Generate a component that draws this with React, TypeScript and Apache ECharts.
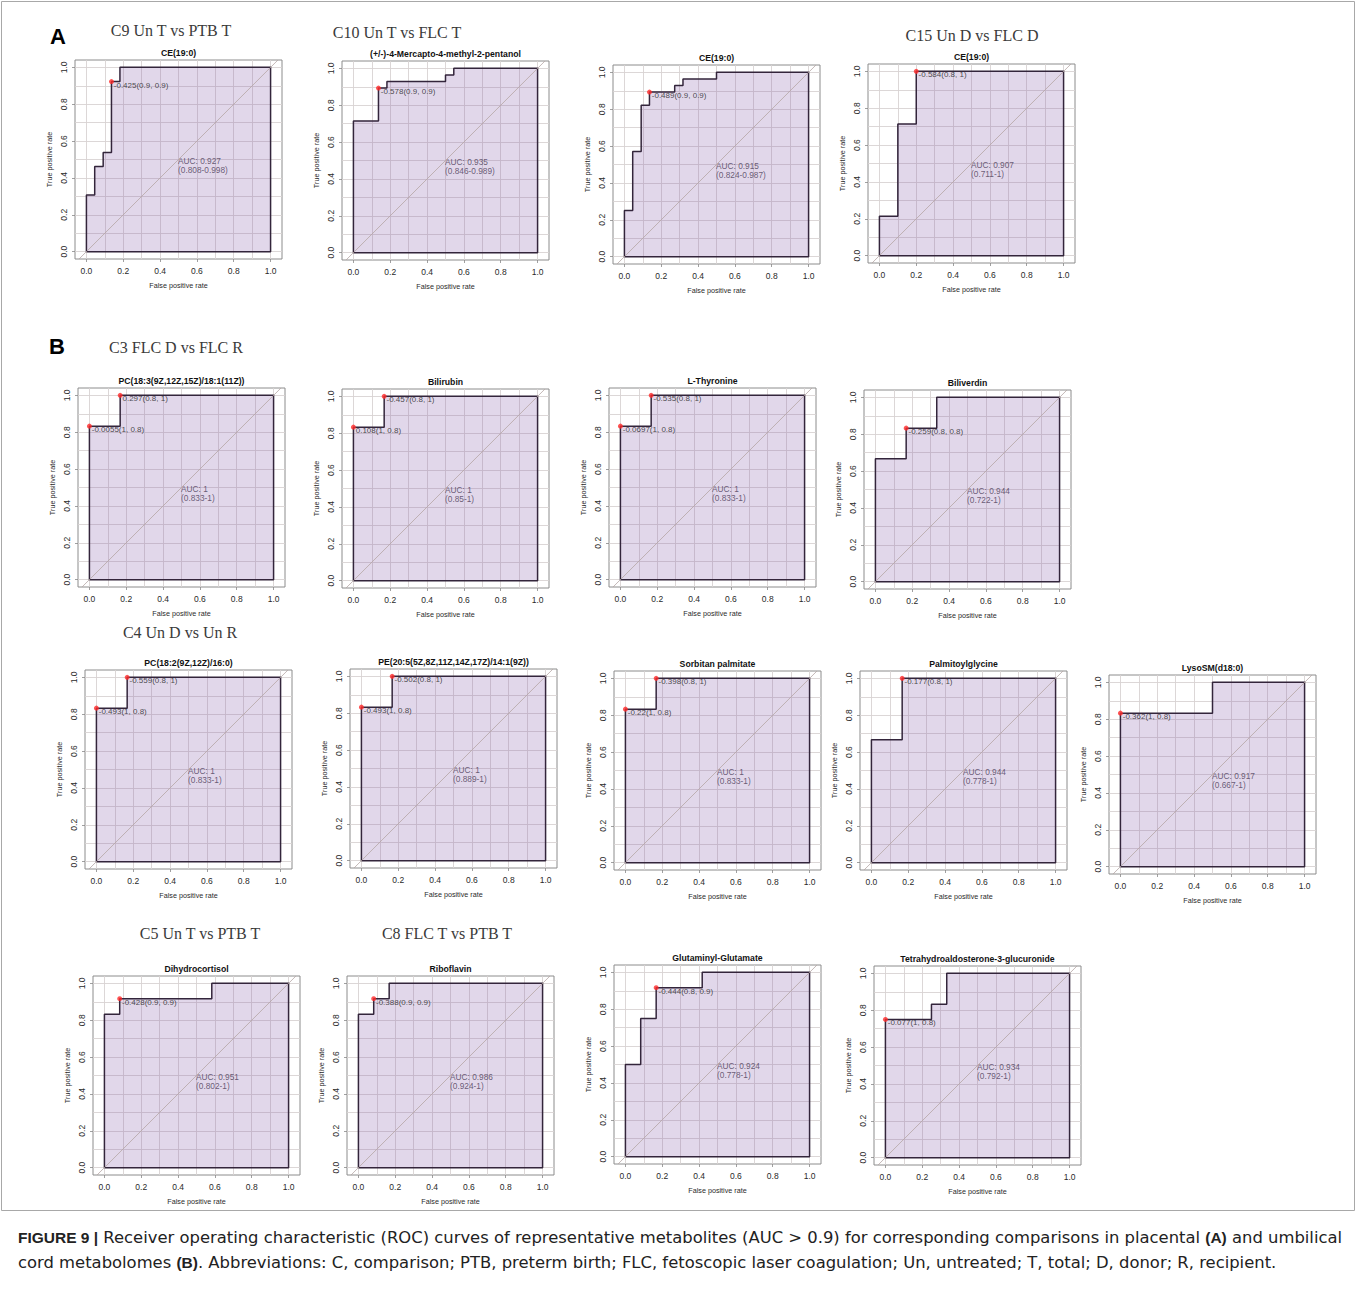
import React, { useEffect, useRef } from "react";
import * as echarts from "echarts";

const FONT = "'Liberation Sans', Arial, Helvetica, sans-serif";
const SERIF = "'Liberation Serif', 'Times New Roman', serif";
const CAPFONT = "'DejaVu Sans', 'Liberation Sans', Arial, sans-serif";

// ---------- data ----------
const panelTitles = [
  "CE(19:0)",
  "(+/-)-4-Mercapto-4-methyl-2-pentanol",
  "CE(19:0)",
  "CE(19:0)",
  "PC(18:3(9Z,12Z,15Z)/18:1(11Z))",
  "Bilirubin",
  "L-Thyronine",
  "Biliverdin",
  "PC(18:2(9Z,12Z)/16:0)",
  "PE(20:5(5Z,8Z,11Z,14Z,17Z)/14:1(9Z))",
  "Sorbitan palmitate",
  "Palmitoylglycine",
  "LysoSM(d18:0)",
  "Dihydrocortisol",
  "Riboflavin",
  "Glutaminyl-Glutamate",
  "Tetrahydroaldosterone-3-glucuronide",
];

// FPR at which TPR jumps, and the TPR level reached there
const fprSteps = [
  [0, 0.045, 0.091, 0.136, 0.182],
  [0, 0.136, 0.182, 0.5, 0.545],
  [0, 0.045, 0.091, 0.136, 0.273, 0.318, 0.5],
  [0, 0.1, 0.2],
  [0, 0.167],
  [0, 0.167],
  [0, 0.167],
  [0, 0.167, 0.333],
  [0, 0.167],
  [0, 0.167],
  [0, 0.167],
  [0, 0.167],
  [0, 0.5],
  [0, 0.083, 0.583],
  [0, 0.083, 0.167],
  [0, 0.083, 0.167, 0.417],
  [0, 0.25, 0.333],
];
const tprSteps = [
  [0.308, 0.462, 0.538, 0.923, 1],
  [0.714, 0.893, 0.929, 0.964, 1],
  [0.25, 0.571, 0.821, 0.893, 0.929, 0.964, 1],
  [0.214, 0.714, 1],
  [0.833, 1],
  [0.833, 1],
  [0.833, 1],
  [0.667, 0.833, 1],
  [0.833, 1],
  [0.833, 1],
  [0.833, 1],
  [0.667, 1],
  [0.833, 1],
  [0.833, 0.917, 1],
  [0.833, 0.917, 1],
  [0.5, 0.75, 0.917, 1],
  [0.75, 0.833, 1],
];

// best cut-off points: [fpr, tpr, label]
const cutoffs: [number, number, string][][] = [
  [[0.136, 0.923, "-0.425(0.9, 0.9)"]],
  [[0.136, 0.893, "-0.578(0.9, 0.9)"]],
  [[0.136, 0.893, "-0.489(0.9, 0.9)"]],
  [[0.2, 1, "-0.584(0.8, 1)"]],
  [[0.167, 1, "0.297(0.8, 1)"], [0, 0.833, "-0.0055(1, 0.8)"]],
  [[0.167, 1, "-0.457(0.8, 1)"], [0, 0.833, "0.108(1, 0.8)"]],
  [[0.167, 1, "-0.535(0.8, 1)"], [0, 0.833, "-0.0697(1, 0.8)"]],
  [[0.167, 0.833, "-0.259(0.8, 0.8)"]],
  [[0.167, 1, "-0.559(0.8, 1)"], [0, 0.833, "-0.493(1, 0.8)"]],
  [[0.167, 1, "-0.502(0.8, 1)"], [0, 0.833, "-0.493(1, 0.8)"]],
  [[0.167, 1, "-0.398(0.8, 1)"], [0, 0.833, "-0.22(1, 0.8)"]],
  [[0.167, 1, "-0.177(0.8, 1)"]],
  [[0, 0.833, "-0.362(1, 0.8)"]],
  [[0.083, 0.917, "-0.428(0.9, 0.9)"]],
  [[0.083, 0.917, "-0.388(0.9, 0.9)"]],
  [[0.167, 0.917, "-0.444(0.8, 0.9)"]],
  [[0, 0.75, "-0.077(1, 0.8)"]],
];

const aucValues = ["0.927", "0.935", "0.915", "0.907", "1", "1", "1", "0.944", "1", "1", "1", "0.944", "0.917", "0.951", "0.986", "0.924", "0.934"];
const aucCIs = ["0.808-0.998", "0.846-0.989", "0.824-0.987", "0.711-1", "0.833-1", "0.85-1", "0.833-1", "0.722-1", "0.833-1", "0.889-1", "0.833-1", "0.778-1", "0.667-1", "0.802-1", "0.924-1", "0.778-1", "0.792-1"];

const tickValues = [0, 0.2, 0.4, 0.6, 0.8, 1.0];
const gridValues = [0, 0.1, 0.2, 0.3, 0.4, 0.5, 0.6, 0.7, 0.8, 0.9, 1.0];

const sectionTitles = ["C9 Un T vs PTB T", "C10 Un T vs FLC T", "C15 Un D vs FLC D", "C3 FLC D vs FLC R", "C4 Un D vs Un R", "C5 Un T vs PTB T", "C8 FLC T vs PTB T"];

const captionLine1 = "{b|FIGURE 9 |} Receiver operating characteristic (ROC) curves of representative metabolites (AUC > 0.9) for corresponding comparisons in placental {b|(A)} and umbilical";
const captionLine2 = "cord metabolomes {b|(B)}. Abbreviations: C, comparison; PTB, preterm birth; FLC, fetoscopic laser coagulation; Un, untreated; T, total; D, donor; R, recipient.";

// ---------- layout ----------
const EX = 0.062;
const EY = 0.04;
const BOX_W = 207;
const BOX_H = 199;
const boxLeft = [75, 342, 613, 868, 78, 342, 609, 864, 85, 350, 614, 860, 1109, 93, 347, 614, 874];
const boxTop = [60, 61, 65, 64, 388, 389, 388, 390, 670, 669, 671, 671, 675, 976, 976, 965, 966];
const sectionPos = [
  [171, 30],
  [397, 32],
  [972, 35],
  [176, 347],
  [180, 632],
  [200, 933],
  [447, 933],
];

function stepPath(fpr: number[], tpr: number[]) {
  const pts: number[][] = [[0, 0]];
  let prev = 0;
  for (let k = 0; k < fpr.length; k++) {
    pts.push([fpr[k], prev]);
    pts.push([fpr[k], tpr[k]]);
    prev = tpr[k];
  }
  pts.push([1, prev]);
  pts.push([1, 0]);
  pts.push([0, 0]);
  return pts;
}

function buildOption() {
  const grid: any[] = [];
  const xAxis: any[] = [];
  const yAxis: any[] = [];
  const series: any[] = [];
  const graphic: any[] = [];

  panelTitles.forEach((title, i) => {
    grid.push({
      left: boxLeft[i],
      top: boxTop[i],
      width: BOX_W,
      height: BOX_H,
      show: true,
      borderColor: "#8c8c8c",
      borderWidth: 1,
      backgroundColor: "transparent",
      containLabel: false,
      outerBoundsMode: "none",
    });
    xAxis.push({
      gridIndex: i,
      type: "value",
      min: -EX,
      max: 1 + EX,
      axisLine: { show: false, onZero: false },
      axisTick: { show: true, customValues: tickValues, length: 3, lineStyle: { color: "#888", width: 0.8 } },
      axisLabel: {
        customValues: tickValues,
        formatter: (v: number) => v.toFixed(1),
        fontSize: 8.5,
        fontFamily: FONT,
        color: "#2a2a2a",
        margin: 7,
      },
      splitLine: { show: false },
      name: "False positive rate",
      nameLocation: "middle",
      nameGap: 23,
      nameTextStyle: { fontSize: 7.2, fontFamily: FONT, color: "#2a2a2a" },
    });
    yAxis.push({
      gridIndex: i,
      type: "value",
      min: -EY,
      max: 1 + EY,
      axisLine: { show: false, onZero: false },
      axisTick: { show: true, customValues: tickValues, length: 3, lineStyle: { color: "#888", width: 0.8 } },
      axisLabel: {
        customValues: tickValues,
        formatter: (v: number) => v.toFixed(1),
        rotate: 90,
        fontSize: 8.5,
        fontFamily: FONT,
        color: "#2a2a2a",
        margin: 7,
      },
      splitLine: { show: false },
      name: "True positive rate",
      nameLocation: "middle",
      nameGap: 22,
      nameRotate: 90,
      nameTextStyle: { fontSize: 7.2, fontFamily: FONT, color: "#2a2a2a" },
    });

    // background grid lines
    const gl: any[] = [];
    gridValues.forEach((v) => {
      gl.push({ coords: [[v, -EY], [v, 1 + EY]] });
      gl.push({ coords: [[-EX, v], [1 + EX, v]] });
    });
    series.push({
      type: "lines",
      coordinateSystem: "cartesian2d",
      xAxisIndex: i,
      yAxisIndex: i,
      polyline: false,
      silent: true,
      z: 1,
      lineStyle: { color: "#d8d2d2", width: 0.9, opacity: 1 },
      data: gl,
    });

    // ROC polygon
    series.push({
      type: "line",
      xAxisIndex: i,
      yAxisIndex: i,
      data: stepPath(fprSteps[i], tprSteps[i]),
      symbol: "none",
      showSymbol: false,
      silent: true,
      z: 2,
      lineStyle: { color: "#33253b", width: 1.5 },
      areaStyle: { color: "rgba(140, 100, 175, 0.37)", origin: 0 },
    });

    // diagonal
    series.push({
      type: "lines",
      coordinateSystem: "cartesian2d",
      xAxisIndex: i,
      yAxisIndex: i,
      polyline: false,
      silent: true,
      z: 3,
      lineStyle: { color: "#b5a6a4", width: 0.8, opacity: 1 },
      data: [{ coords: [[-EY, -EY], [1 + EY, 1 + EY]] }],
    });

    // cut-off points
    series.push({
      type: "scatter",
      xAxisIndex: i,
      yAxisIndex: i,
      symbolSize: 5,
      silent: true,
      z: 5,
      itemStyle: { color: "#ff2b2b" },
      label: {
        show: true,
        formatter: "{b}",
        position: [4.8, 2],
        fontSize: 8,
        fontFamily: FONT,
        color: "#1e1e1e",
      },
      data: cutoffs[i].map((c) => ({ value: [c[0], c[1]], name: c[2] })),
    });

    // AUC text
    series.push({
      type: "scatter",
      xAxisIndex: i,
      yAxisIndex: i,
      symbolSize: 1,
      silent: true,
      z: 5,
      itemStyle: { color: "rgba(0,0,0,0)" },
      label: {
        show: true,
        formatter: "{b}",
        position: [0, 0],
        fontSize: 8.3,
        lineHeight: 9.5,
        fontFamily: FONT,
        color: "#4a3a56",
      },
      data: [{ value: [0.5, 0.515], name: "AUC: " + aucValues[i] + "\n(" + aucCIs[i] + ")" }],
    });

    // panel title
    graphic.push({
      type: "text",
      x: boxLeft[i] + BOX_W / 2,
      y: boxTop[i] - 7.5,
      silent: true,
      style: {
        text: title,
        fill: "#111",
        fontSize: 8.7,
        fontWeight: "bold",
        fontFamily: FONT,
        align: "center",
        verticalAlign: "middle",
        textAlign: "center",
        textVerticalAlign: "middle",
      },
    });
  });

  // section titles
  sectionTitles.forEach((t, k) => {
    graphic.push({
      type: "text",
      x: sectionPos[k][0],
      y: sectionPos[k][1],
      silent: true,
      style: {
        text: t,
        fill: "#3a3a3a",
        fontSize: 16,
        fontFamily: SERIF,
        align: "center",
        verticalAlign: "middle",
        textAlign: "center",
        textVerticalAlign: "middle",
      },
    });
  });

  // panel letters
  [["A", 58, 36], ["B", 57, 346]].forEach(([t, x, y]) => {
    graphic.push({
      type: "text",
      x,
      y,
      silent: true,
      style: {
        text: t,
        fill: "#000",
        fontSize: 22,
        fontWeight: "bold",
        fontFamily: FONT,
        align: "center",
        verticalAlign: "middle",
        textAlign: "center",
        textVerticalAlign: "middle",
      },
    });
  });

  // figure frame
  graphic.push({
    type: "rect",
    silent: true,
    z: -1,
    shape: { x: 1.5, y: 1.5, width: 1353, height: 1209 },
    style: { fill: "none", stroke: "#a8a8a8", lineWidth: 1 },
  });

  // caption
  const rich = {
    b: { fontWeight: "bold", fontSize: 15.5, fontFamily: FONT, fill: "#222", color: "#222" },
  };
  [[captionLine1, 1237], [captionLine2, 1262]].forEach(([t, y]) => {
    graphic.push({
      type: "text",
      x: 18,
      y,
      silent: true,
      style: {
        text: t,
        fill: "#222",
        fontSize: 16.4,
        fontFamily: CAPFONT,
        rich,
        align: "left",
        verticalAlign: "middle",
        textAlign: "left",
        textVerticalAlign: "middle",
      },
    });
  });

  return {
    animation: false,
    backgroundColor: "#ffffff",
    grid,
    xAxis,
    yAxis,
    series,
    graphic,
  };
}

export default function App() {
  const ref = useRef<HTMLDivElement>(null);
  useEffect(() => {
    document.body.style.margin = "0";
    const chart = echarts.init(ref.current as HTMLDivElement, null, { renderer: "svg" });
    chart.setOption(buildOption() as any);
    return () => chart.dispose();
  }, []);
  return <div ref={ref} style={{ width: 1357, height: 1290, background: "#fff" }} />;
}
